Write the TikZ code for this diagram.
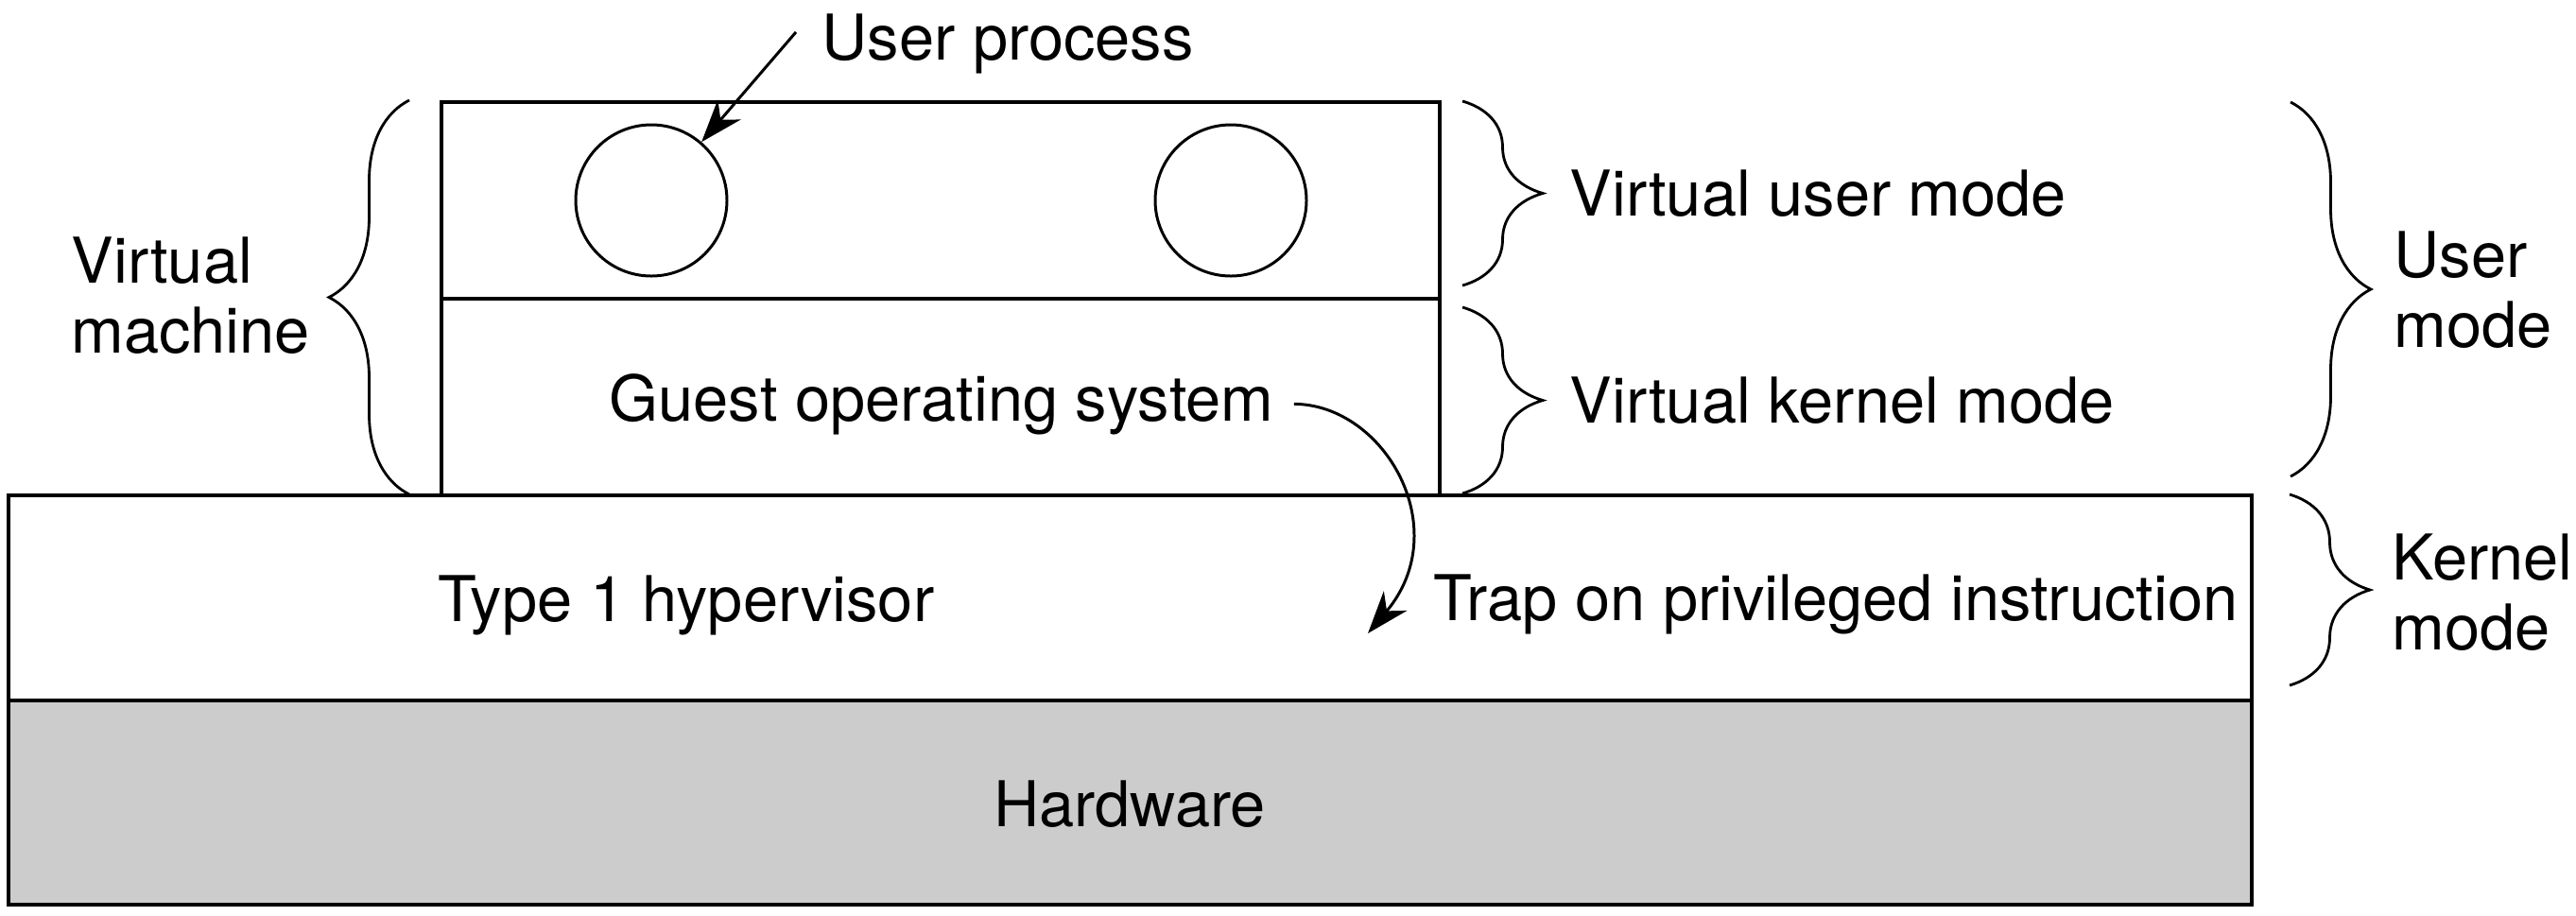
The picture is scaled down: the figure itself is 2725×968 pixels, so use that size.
\documentclass[tikz,border=0pt]{standalone}
\usepackage{fontspec}
\setmainfont{TeX Gyre Heros}
\usepackage{tikz}
\usetikzlibrary{arrows.meta,decorations.pathreplacing}

\begin{document}
\begin{tikzpicture}[x=0.1mm, y=-0.1mm,
    lbl/.style={font=\fontsize{19pt}{21pt}\selectfont, inner sep=0pt},
    box/.style={draw, line width=1pt},
    proc/.style={draw, line width=0.85pt, circle, minimum size=16mm, inner sep=0pt},
    curly/.style={decorate, decoration={brace, amplitude=8.5mm}, line width=0.8pt},
    ptr/.style={-{Stealth[length=4.5mm, width=3.2mm, inset=1.4mm]}, line width=0.85pt}]
             \useasboundingbox (0,0) rectangle (2725,968);

             % hardware and hypervisor
             \draw[box, fill=black!20] (9,741) rectangle (2382,957);
             \draw[box] (9,524) rectangle (2382,741);

             % virtual machine
             \draw[box] (467,108) rectangle (1523,524);
             \draw[box] (467,316) -- (1523,316);
             \node[proc] (p1) at (689,212) {};
             \node[proc] (p2) at (1302,212) {};

             \node[lbl, anchor=base west] (uproc) at (869,63) {User process};
             \node[lbl, anchor=base] (guest) at (996,445) {Guest operating system};
             \node[lbl, anchor=base] (hyp) at (726,657) {Type 1 hypervisor};
             \node[lbl, anchor=base west] (trap) at (1516,656) {Trap on privileged instruction};
             \node[lbl, anchor=base] (hw) at (1195,874) {Hardware};
             \coordinate (trapin) at (1447,670);

             \draw[ptr] ([xshift=-2.7mm, yshift=1.2mm]uproc.west) -- (p1);
             \draw[ptr] ([xshift=2.1mm]guest.east) .. controls (1465,428) and (1540,560) .. (trapin);

             % braces
             \draw[curly] (433,523) -- (433,106);
             \draw[curly] (1547,107) -- (1547,302);
             \draw[curly] (1547,325) -- (1547,522);
             \draw[curly] (2423,108) -- (2423,504);
             \draw[curly] (2422,523) -- (2422,725);

             \node[lbl, anchor=west, align=left] (vm) at (75,313) {Virtual\\machine};
             \node[lbl, anchor=base west] (vusr) at (1660,228) {Virtual user mode};
             \node[lbl, anchor=base west] (vkrn) at (1660,447) {Virtual kernel mode};
             \node[lbl, anchor=west, align=left] (umode) at (2532,307) {User\\mode};
             \node[lbl, anchor=west, align=left] (kmode) at (2530,627) {Kernel\\mode};
\end{tikzpicture}
\end{document}
